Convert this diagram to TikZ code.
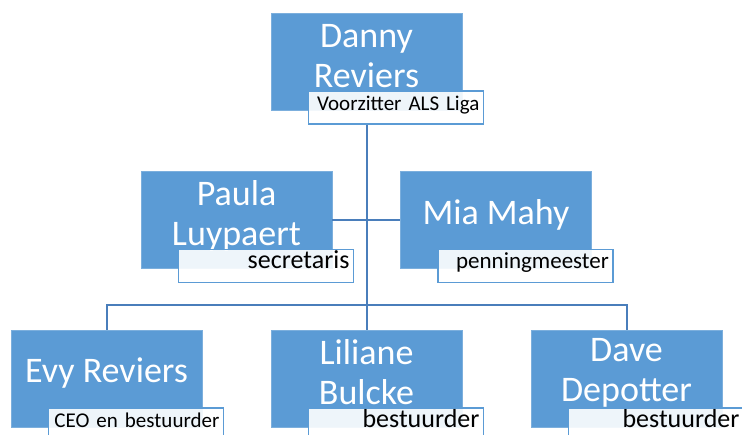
\documentclass[tikz,border=0pt]{standalone}
\usepackage{fontspec}
\setmainfont{Carlito}
\usetikzlibrary{calc}
\definecolor{boxblue}{HTML}{5B9BD5}
\definecolor{lineblue}{HTML}{4A7EBB}
\tikzstyle{person}=[fill=boxblue, draw=boxblue!80!white, line width=0.6pt, minimum width=191pt, minimum height=97pt, inner sep=0pt]
\tikzstyle{persontext}=[text=white, align=center, font=\fontsize{36}{40}\selectfont, inner sep=0pt]
\tikzstyle{role}=[draw=boxblue, line width=1.4pt, fill=white, fill opacity=0.9, text opacity=1, text=black, minimum width=175pt, minimum height=33pt, text width=167pt, align=right, inner xsep=4pt, inner ysep=6pt, text height=0.6em, text depth=0pt]
\tikzstyle{link}=[draw=lineblue, line width=2pt]

\begin{document}
\begin{tikzpicture}[x=1pt, y=1pt]
    \useasboundingbox (0, 0) rectangle (742, 435);
    \clip (0, 0) rectangle (742, 435);

    \node[person] (danny) at (366.5, 373.5) {};
    \node[person] (paula) at (236.5, 215) {};
    \node[person] (mia) at (496, 215) {};
    \node[person] (evy) at (106.5, 56.5) {};
    \node[person] (liliane) at (366.5, 56.5) {};
    \node[person] (dave) at (626.5, 56.5) {};

    \node[persontext] at ($(danny) + (0, 5)$) (dannyname) {Danny\\Reviers};
    \node[persontext] at ($(paula) + (0, 4)$) (paulaname) {Paula\\Luypaert};
    \node[persontext] at ($(mia) + (0, 5)$) (mianame) {Mia Mahy};
    \node[persontext] at ($(evy) + (0, 5)$) (evyname) {Evy Reviers};
    \node[persontext] at ($(liliane) + (0, 6)$) (lilianename) {Liliane\\Bulcke};
    \node[persontext] at ($(dave) + (0, 6)$) (davename) {Dave\\Depotter};

    \node[role, anchor=north west, font=\fontsize{21}{24}\selectfont] at ($(danny.south west) + (37, 20)$) (dannyrole) {Voorzitter ALS Liga};
    \node[role, anchor=north west, font=\fontsize{26}{30}\selectfont] at ($(paula.south west) + (37, 20)$) (paularole) {secretaris};
    \node[role, anchor=north west, font=\fontsize{23}{27}\selectfont] at ($(mia.south west) + (37, 20)$) (miarole) {penningmeester};
    \node[role, anchor=north west, font=\fontsize{21}{24}\selectfont] at ($(evy.south west) + (37, 20)$) (evyrole) {CEO en bestuurder};
    \node[role, anchor=north west, font=\fontsize{26}{30}\selectfont] at ($(liliane.south west) + (37, 20)$) (lilianerole) {bestuurder};
    \node[role, anchor=north west, font=\fontsize{26}{30}\selectfont] at ($(dave.south west) + (37, 20)$) (daverole) {bestuurder};

    \coordinate (bar) at (0, 130);

    \draw[link] (dannyrole.south -| danny) -- (liliane.north);
    \draw[link] (paula.east) -- (mia.west);
    \draw[link] (evy.north) |- (bar -| danny);
    \draw[link] (dave.north) |- (bar -| danny);
\end{tikzpicture}
\end{document}
